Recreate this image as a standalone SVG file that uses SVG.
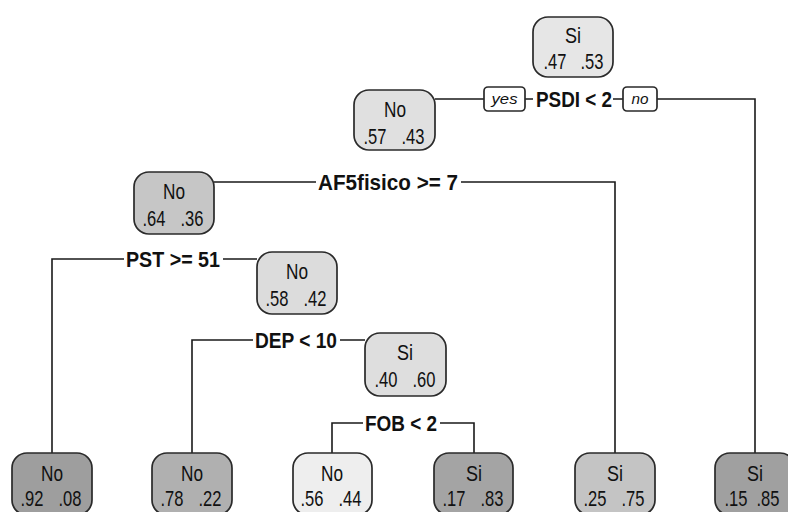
<svg xmlns="http://www.w3.org/2000/svg" width="788" height="512" viewBox="0 0 788 512">
<style>
.box{stroke:#2a2a2a;stroke-width:1.7}
.t{font-family:"Liberation Sans",Arial,sans-serif;font-size:22px;fill:#111;text-anchor:middle}
.s{font-family:"Liberation Sans",Arial,sans-serif;font-size:22px;font-weight:bold;fill:#111}
.yn{font-family:"Liberation Sans",Arial,sans-serif;font-size:15px;font-style:italic;fill:#111;text-anchor:middle}
.ln{stroke:#1a1a1a;stroke-width:1.6;fill:none}
</style>
<rect width="788" height="512" fill="#fff"/>
<g id="connectors">
<path class="ln" d="M435,99 H484 M525,99 H533 M613,99 H623 M657,99 H755 V453"/>
<path class="ln" d="M214,182 H316 M461,182 H615 V453"/>
<path class="ln" d="M52,453 V259 H124 M223,259 H257"/>
<path class="ln" d="M192,453 V340 H253 M340,340 H365"/>
<path class="ln" d="M332,453 V423 H363 M440,423 H474 V453"/>
<rect class="box" x="484" y="87" width="41" height="24" rx="4" fill="#fff"/>
<text class="yn" x="504.5" y="104" textLength="26" lengthAdjust="spacingAndGlyphs">yes</text>
<rect class="box" x="623" y="87" width="34" height="24" rx="4" fill="#fff"/>
<text class="yn" x="640" y="104" textLength="17" lengthAdjust="spacingAndGlyphs">no</text>
<text class="s" x="536" y="107" textLength="76" lengthAdjust="spacingAndGlyphs">PSDI &lt; 2</text>
<text class="s" x="318" y="190" textLength="140" lengthAdjust="spacingAndGlyphs">AF5fisico &gt;= 7</text>
<text class="s" x="126" y="267" textLength="94" lengthAdjust="spacingAndGlyphs">PST &gt;= 51</text>
<text class="s" x="255" y="348" textLength="82" lengthAdjust="spacingAndGlyphs">DEP &lt; 10</text>
<text class="s" x="365" y="431" textLength="72" lengthAdjust="spacingAndGlyphs">FOB &lt; 2</text>
</g>
<g id="n1"><rect class="box" x="533" y="17" width="80" height="60" rx="15" fill="#e6e6e6"/><text class="t" x="573" y="43" textLength="16" lengthAdjust="spacingAndGlyphs">Si</text><text class="t" x="555" y="69" textLength="23" lengthAdjust="spacingAndGlyphs">.47</text><text class="t" x="592" y="69" textLength="23" lengthAdjust="spacingAndGlyphs">.53</text></g>
<g id="n2"><rect class="box" x="354" y="90" width="81" height="60" rx="15" fill="#e0e0e0"/><text class="t" x="395" y="117" textLength="22" lengthAdjust="spacingAndGlyphs">No</text><text class="t" x="375" y="144" textLength="23" lengthAdjust="spacingAndGlyphs">.57</text><text class="t" x="413" y="144" textLength="23" lengthAdjust="spacingAndGlyphs">.43</text></g>
<g id="n4"><rect class="box" x="134" y="172" width="80" height="62" rx="15" fill="#c6c6c6"/><text class="t" x="174" y="199" textLength="22" lengthAdjust="spacingAndGlyphs">No</text><text class="t" x="154" y="226" textLength="23" lengthAdjust="spacingAndGlyphs">.64</text><text class="t" x="192" y="226" textLength="23" lengthAdjust="spacingAndGlyphs">.36</text></g>
<g id="n9"><rect class="box" x="257" y="252" width="80" height="62" rx="15" fill="#dcdcdc"/><text class="t" x="297" y="279" textLength="22" lengthAdjust="spacingAndGlyphs">No</text><text class="t" x="277" y="306" textLength="23" lengthAdjust="spacingAndGlyphs">.58</text><text class="t" x="315" y="306" textLength="23" lengthAdjust="spacingAndGlyphs">.42</text></g>
<g id="n19"><rect class="box" x="365" y="333" width="81" height="63" rx="15" fill="#dedede"/><text class="t" x="405" y="360" textLength="16" lengthAdjust="spacingAndGlyphs">Si</text><text class="t" x="386" y="387" textLength="23" lengthAdjust="spacingAndGlyphs">.40</text><text class="t" x="424" y="387" textLength="23" lengthAdjust="spacingAndGlyphs">.60</text></g>
<g id="l8"><rect class="box" x="12" y="453" width="80" height="62" rx="15" fill="#9e9e9e"/><text class="t" x="52" y="481" textLength="22" lengthAdjust="spacingAndGlyphs">No</text><text class="t" x="32" y="506" textLength="23" lengthAdjust="spacingAndGlyphs">.92</text><text class="t" x="70" y="506" textLength="23" lengthAdjust="spacingAndGlyphs">.08</text></g>
<g id="l18"><rect class="box" x="152" y="453" width="80" height="62" rx="15" fill="#b0b0b0"/><text class="t" x="192" y="481" textLength="22" lengthAdjust="spacingAndGlyphs">No</text><text class="t" x="172" y="506" textLength="23" lengthAdjust="spacingAndGlyphs">.78</text><text class="t" x="210" y="506" textLength="23" lengthAdjust="spacingAndGlyphs">.22</text></g>
<g id="l38"><rect class="box" x="293" y="453" width="79" height="62" rx="15" fill="#eeeeee"/><text class="t" x="332" y="481" textLength="22" lengthAdjust="spacingAndGlyphs">No</text><text class="t" x="312" y="506" textLength="23" lengthAdjust="spacingAndGlyphs">.56</text><text class="t" x="350" y="506" textLength="23" lengthAdjust="spacingAndGlyphs">.44</text></g>
<g id="l39"><rect class="box" x="434" y="453" width="79" height="62" rx="15" fill="#a4a4a4"/><text class="t" x="474" y="481" textLength="16" lengthAdjust="spacingAndGlyphs">Si</text><text class="t" x="454" y="506" textLength="23" lengthAdjust="spacingAndGlyphs">.17</text><text class="t" x="492" y="506" textLength="23" lengthAdjust="spacingAndGlyphs">.83</text></g>
<g id="l5"><rect class="box" x="575" y="453" width="80" height="62" rx="15" fill="#c4c4c4"/><text class="t" x="615" y="481" textLength="16" lengthAdjust="spacingAndGlyphs">Si</text><text class="t" x="595" y="506" textLength="23" lengthAdjust="spacingAndGlyphs">.25</text><text class="t" x="633" y="506" textLength="23" lengthAdjust="spacingAndGlyphs">.75</text></g>
<g id="l3"><rect class="box" x="715" y="453" width="80" height="62" rx="15" fill="#a0a0a0"/><text class="t" x="755" y="481" textLength="16" lengthAdjust="spacingAndGlyphs">Si</text><text class="t" x="736" y="506" textLength="23" lengthAdjust="spacingAndGlyphs">.15</text><text class="t" x="768" y="506" textLength="23" lengthAdjust="spacingAndGlyphs">.85</text></g>
</svg>
